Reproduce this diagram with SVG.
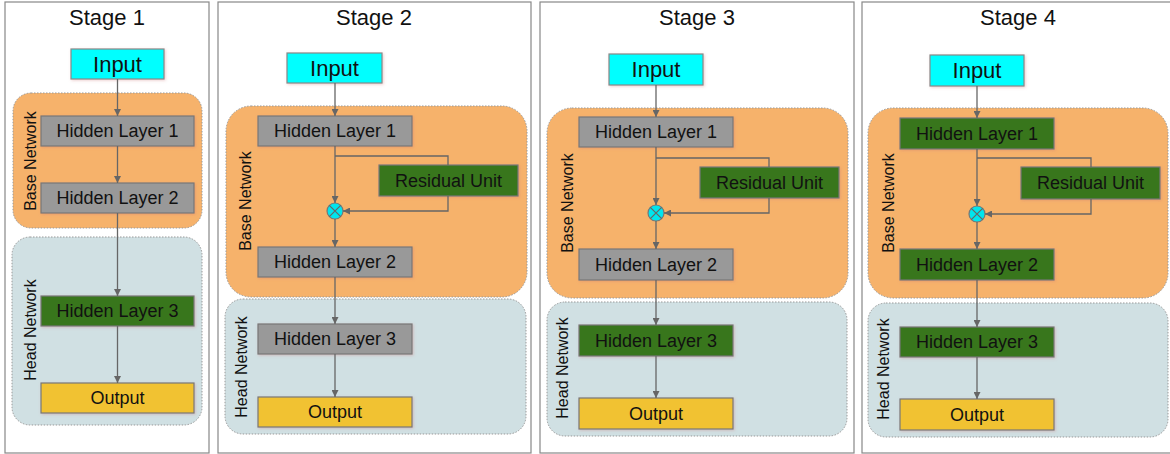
<svg xmlns="http://www.w3.org/2000/svg" width="1170" height="454" viewBox="0 0 1170 454">
<style>
.frame{fill:#fff;stroke:#888;stroke-width:1.2}
.title{font-family:"Liberation Sans",Arial,sans-serif;font-size:22px;fill:#111;text-anchor:middle}
.base{fill:#f6b26b;stroke:#999;stroke-width:1;stroke-dasharray:1.5,1.5}
.head{fill:#d0e0e3;stroke:#999;stroke-width:1;stroke-dasharray:1.5,1.5}
.rlab{font-family:"Liberation Sans",Arial,sans-serif;font-size:16px;fill:#111;text-anchor:middle;dominant-baseline:central}
.inp{fill:#00ffff;stroke:#888;stroke-width:1.2}
.gray{fill:#999999;stroke:#777;stroke-width:1.2}
.green{fill:#38761d;stroke:#777;stroke-width:1.2}
.out{fill:#f1c232;stroke:#777;stroke-width:1.2}
.nt{font-family:"Liberation Sans",Arial,sans-serif;font-size:18px;fill:#111;text-anchor:middle;dominant-baseline:central}
.it{font-family:"Liberation Sans",Arial,sans-serif;font-size:22px;fill:#111;text-anchor:middle;dominant-baseline:central}
.c{fill:none;stroke:#666;stroke-width:1.3}
.a{marker-end:url(#ah)}
.sum{fill:#00e5ee;stroke:#777;stroke-width:1.2}
.x{stroke:#666;stroke-width:1.2}
</style>
<defs>
<marker id="ah" viewBox="0 0 10 10" refX="10" refY="5" markerWidth="7" markerHeight="7" markerUnits="userSpaceOnUse" orient="auto">
<path d="M0,0 L10,5 L0,10 z" fill="#666"/>
</marker>
<filter id="sh" x="-10%" y="-20%" width="120%" height="150%">
<feDropShadow dx="1" dy="1" stdDeviation="1.5" flood-color="#c77" flood-opacity="0.35"/>
</filter>
</defs>

<!-- Stage 1 -->
<g id="stage1">
<rect class="frame" x="5" y="2" width="204" height="451"/>
<text class="title" x="107" y="25">Stage 1</text>
<g id="s1-base"><rect class="base" x="13" y="93" width="189" height="135" rx="18"/><text class="rlab" transform="translate(30,161) rotate(-90)">Base Network</text></g>
<g id="s1-head"><rect class="head" x="12" y="237" width="190" height="188" rx="18"/><text class="rlab" transform="translate(30,330) rotate(-90)">Head Network</text></g>
<g id="s1-input"><rect class="inp" x="71" y="49" width="93" height="30" filter="url(#sh)"/><text class="it" x="117.5" y="64">Input</text></g>
<g id="s1-hl1"><rect class="gray" x="41" y="116" width="153" height="30" filter="url(#sh)"/><text class="nt" x="117.5" y="131">Hidden Layer 1</text></g>
<g id="s1-hl2"><rect class="gray" x="41" y="183" width="153" height="30" filter="url(#sh)"/><text class="nt" x="117.5" y="198">Hidden Layer 2</text></g>
<g id="s1-hl3"><rect class="green" x="41" y="296" width="153" height="30" filter="url(#sh)"/><text class="nt" x="117.5" y="311">Hidden Layer 3</text></g>
<g id="s1-out"><rect class="out" x="41" y="383" width="153" height="30" filter="url(#sh)"/><text class="nt" x="117.5" y="398">Output</text></g>
<g id="s1-connectors">
<path class="c a" d="M117.5,79 V116"/>
<path class="c a" d="M117.5,146 V183"/>
<path class="c a" d="M117.5,213 V296"/>
<path class="c a" d="M117.5,326 V383"/>
</g>
</g>

<!-- Stage 2 -->
<g id="stage2">
<rect class="frame" x="218" y="2" width="313" height="451"/>
<text class="title" x="374" y="25">Stage 2</text>
<g id="s2-base"><rect class="base" x="226" y="106" width="301" height="191" rx="25"/><text class="rlab" transform="translate(245,201) rotate(-90)">Base Network</text></g>
<g id="s2-head"><rect class="head" x="225" y="299" width="301" height="135" rx="18"/><text class="rlab" transform="translate(241,367) rotate(-90)">Head Network</text></g>
<g id="s2-input"><rect class="inp" x="287" y="53" width="95" height="30" filter="url(#sh)"/><text class="it" x="334.5" y="68">Input</text></g>
<g id="s2-hl1"><rect class="gray" x="258" y="116" width="154" height="30" filter="url(#sh)"/><text class="nt" x="335" y="131">Hidden Layer 1</text></g>
<g id="s2-res"><rect class="green" x="379" y="165" width="139" height="31" filter="url(#sh)"/><text class="nt" x="448.5" y="180.5">Residual Unit</text></g>
<g id="s2-sum"><circle class="sum" cx="335" cy="211" r="8"/><path class="x" d="M329.3,205.3 L340.7,216.7 M340.7,205.3 L329.3,216.7"/></g>
<g id="s2-hl2"><rect class="gray" x="258" y="247" width="154" height="30" filter="url(#sh)"/><text class="nt" x="335" y="262">Hidden Layer 2</text></g>
<g id="s2-hl3"><rect class="gray" x="258" y="324" width="154" height="30" filter="url(#sh)"/><text class="nt" x="335" y="339">Hidden Layer 3</text></g>
<g id="s2-out"><rect class="out" x="258" y="397" width="154" height="30" filter="url(#sh)"/><text class="nt" x="335" y="412">Output</text></g>
<g id="s2-connectors">
<path class="c a" d="M335,83 V116"/>
<path class="c a" d="M335,146 V203"/>
<path class="c" d="M335,156 H448 V165"/>
<path class="c a" d="M448,196 V211 H343"/>
<path class="c a" d="M335,219 V247"/>
<path class="c a" d="M335,277 V324"/>
<path class="c a" d="M335,354 V397"/>
</g>
</g>

<!-- Stage 3 -->
<g id="stage3">
<rect class="frame" x="540" y="2" width="314" height="451"/>
<text class="title" x="697" y="25">Stage 3</text>
<g id="s3-base"><rect class="base" x="547" y="108" width="301" height="190" rx="25"/><text class="rlab" transform="translate(567,203) rotate(-90)">Base Network</text></g>
<g id="s3-head"><rect class="head" x="547" y="302" width="300" height="134" rx="18"/><text class="rlab" transform="translate(562,368) rotate(-90)">Head Network</text></g>
<g id="s3-input"><rect class="inp" x="609" y="54" width="94" height="31" filter="url(#sh)"/><text class="it" x="656" y="69.5">Input</text></g>
<g id="s3-hl1"><rect class="gray" x="579" y="117" width="154" height="30" filter="url(#sh)"/><text class="nt" x="656" y="132">Hidden Layer 1</text></g>
<g id="s3-res"><rect class="green" x="700" y="167" width="139" height="31" filter="url(#sh)"/><text class="nt" x="769.5" y="182.5">Residual Unit</text></g>
<g id="s3-sum"><circle class="sum" cx="656" cy="213" r="8"/><path class="x" d="M650.3,207.3 L661.7,218.7 M661.7,207.3 L650.3,218.7"/></g>
<g id="s3-hl2"><rect class="gray" x="579" y="249" width="154" height="31" filter="url(#sh)"/><text class="nt" x="656" y="264.5">Hidden Layer 2</text></g>
<g id="s3-hl3"><rect class="green" x="579" y="325" width="154" height="31" filter="url(#sh)"/><text class="nt" x="656" y="340.5">Hidden Layer 3</text></g>
<g id="s3-out"><rect class="out" x="579" y="398" width="154" height="31" filter="url(#sh)"/><text class="nt" x="656" y="413.5">Output</text></g>
<g id="s3-connectors">
<path class="c a" d="M656,85 V117"/>
<path class="c a" d="M656,147 V205"/>
<path class="c" d="M656,158 H769 V167"/>
<path class="c a" d="M769,198 V213 H664"/>
<path class="c a" d="M656,221 V249"/>
<path class="c a" d="M656,280 V325"/>
<path class="c a" d="M656,356 V398"/>
</g>
</g>

<!-- Stage 4 -->
<g id="stage4">
<rect class="frame" x="862" y="2" width="320" height="451"/>
<text class="title" x="1018" y="25">Stage 4</text>
<g id="s4-base"><rect class="base" x="868" y="108" width="300" height="190" rx="25"/><text class="rlab" transform="translate(888,203) rotate(-90)">Base Network</text></g>
<g id="s4-head"><rect class="head" x="868" y="303" width="300" height="134" rx="18"/><text class="rlab" transform="translate(883,369) rotate(-90)">Head Network</text></g>
<g id="s4-input"><rect class="inp" x="930" y="55" width="94" height="31" filter="url(#sh)"/><text class="it" x="977" y="70.5">Input</text></g>
<g id="s4-hl1"><rect class="green" x="900" y="118" width="154" height="31" filter="url(#sh)"/><text class="nt" x="977" y="133.5">Hidden Layer 1</text></g>
<g id="s4-res"><rect class="green" x="1021" y="167" width="139" height="32" filter="url(#sh)"/><text class="nt" x="1090.5" y="183">Residual Unit</text></g>
<g id="s4-sum"><circle class="sum" cx="977" cy="214" r="8"/><path class="x" d="M971.3,208.3 L982.7,219.7 M982.7,208.3 L971.3,219.7"/></g>
<g id="s4-hl2"><rect class="green" x="900" y="249" width="154" height="31" filter="url(#sh)"/><text class="nt" x="977" y="264.5">Hidden Layer 2</text></g>
<g id="s4-hl3"><rect class="green" x="900" y="327" width="154" height="30" filter="url(#sh)"/><text class="nt" x="977" y="342">Hidden Layer 3</text></g>
<g id="s4-out"><rect class="out" x="900" y="399" width="154" height="31" filter="url(#sh)"/><text class="nt" x="977" y="414.5">Output</text></g>
<g id="s4-connectors">
<path class="c a" d="M977,86 V118"/>
<path class="c a" d="M977,149 V206"/>
<path class="c" d="M977,158 H1091 V167"/>
<path class="c a" d="M1091,199 V214 H985"/>
<path class="c a" d="M977,222 V249"/>
<path class="c a" d="M977,280 V327"/>
<path class="c a" d="M977,357 V399"/>
</g>
</g>
</svg>
